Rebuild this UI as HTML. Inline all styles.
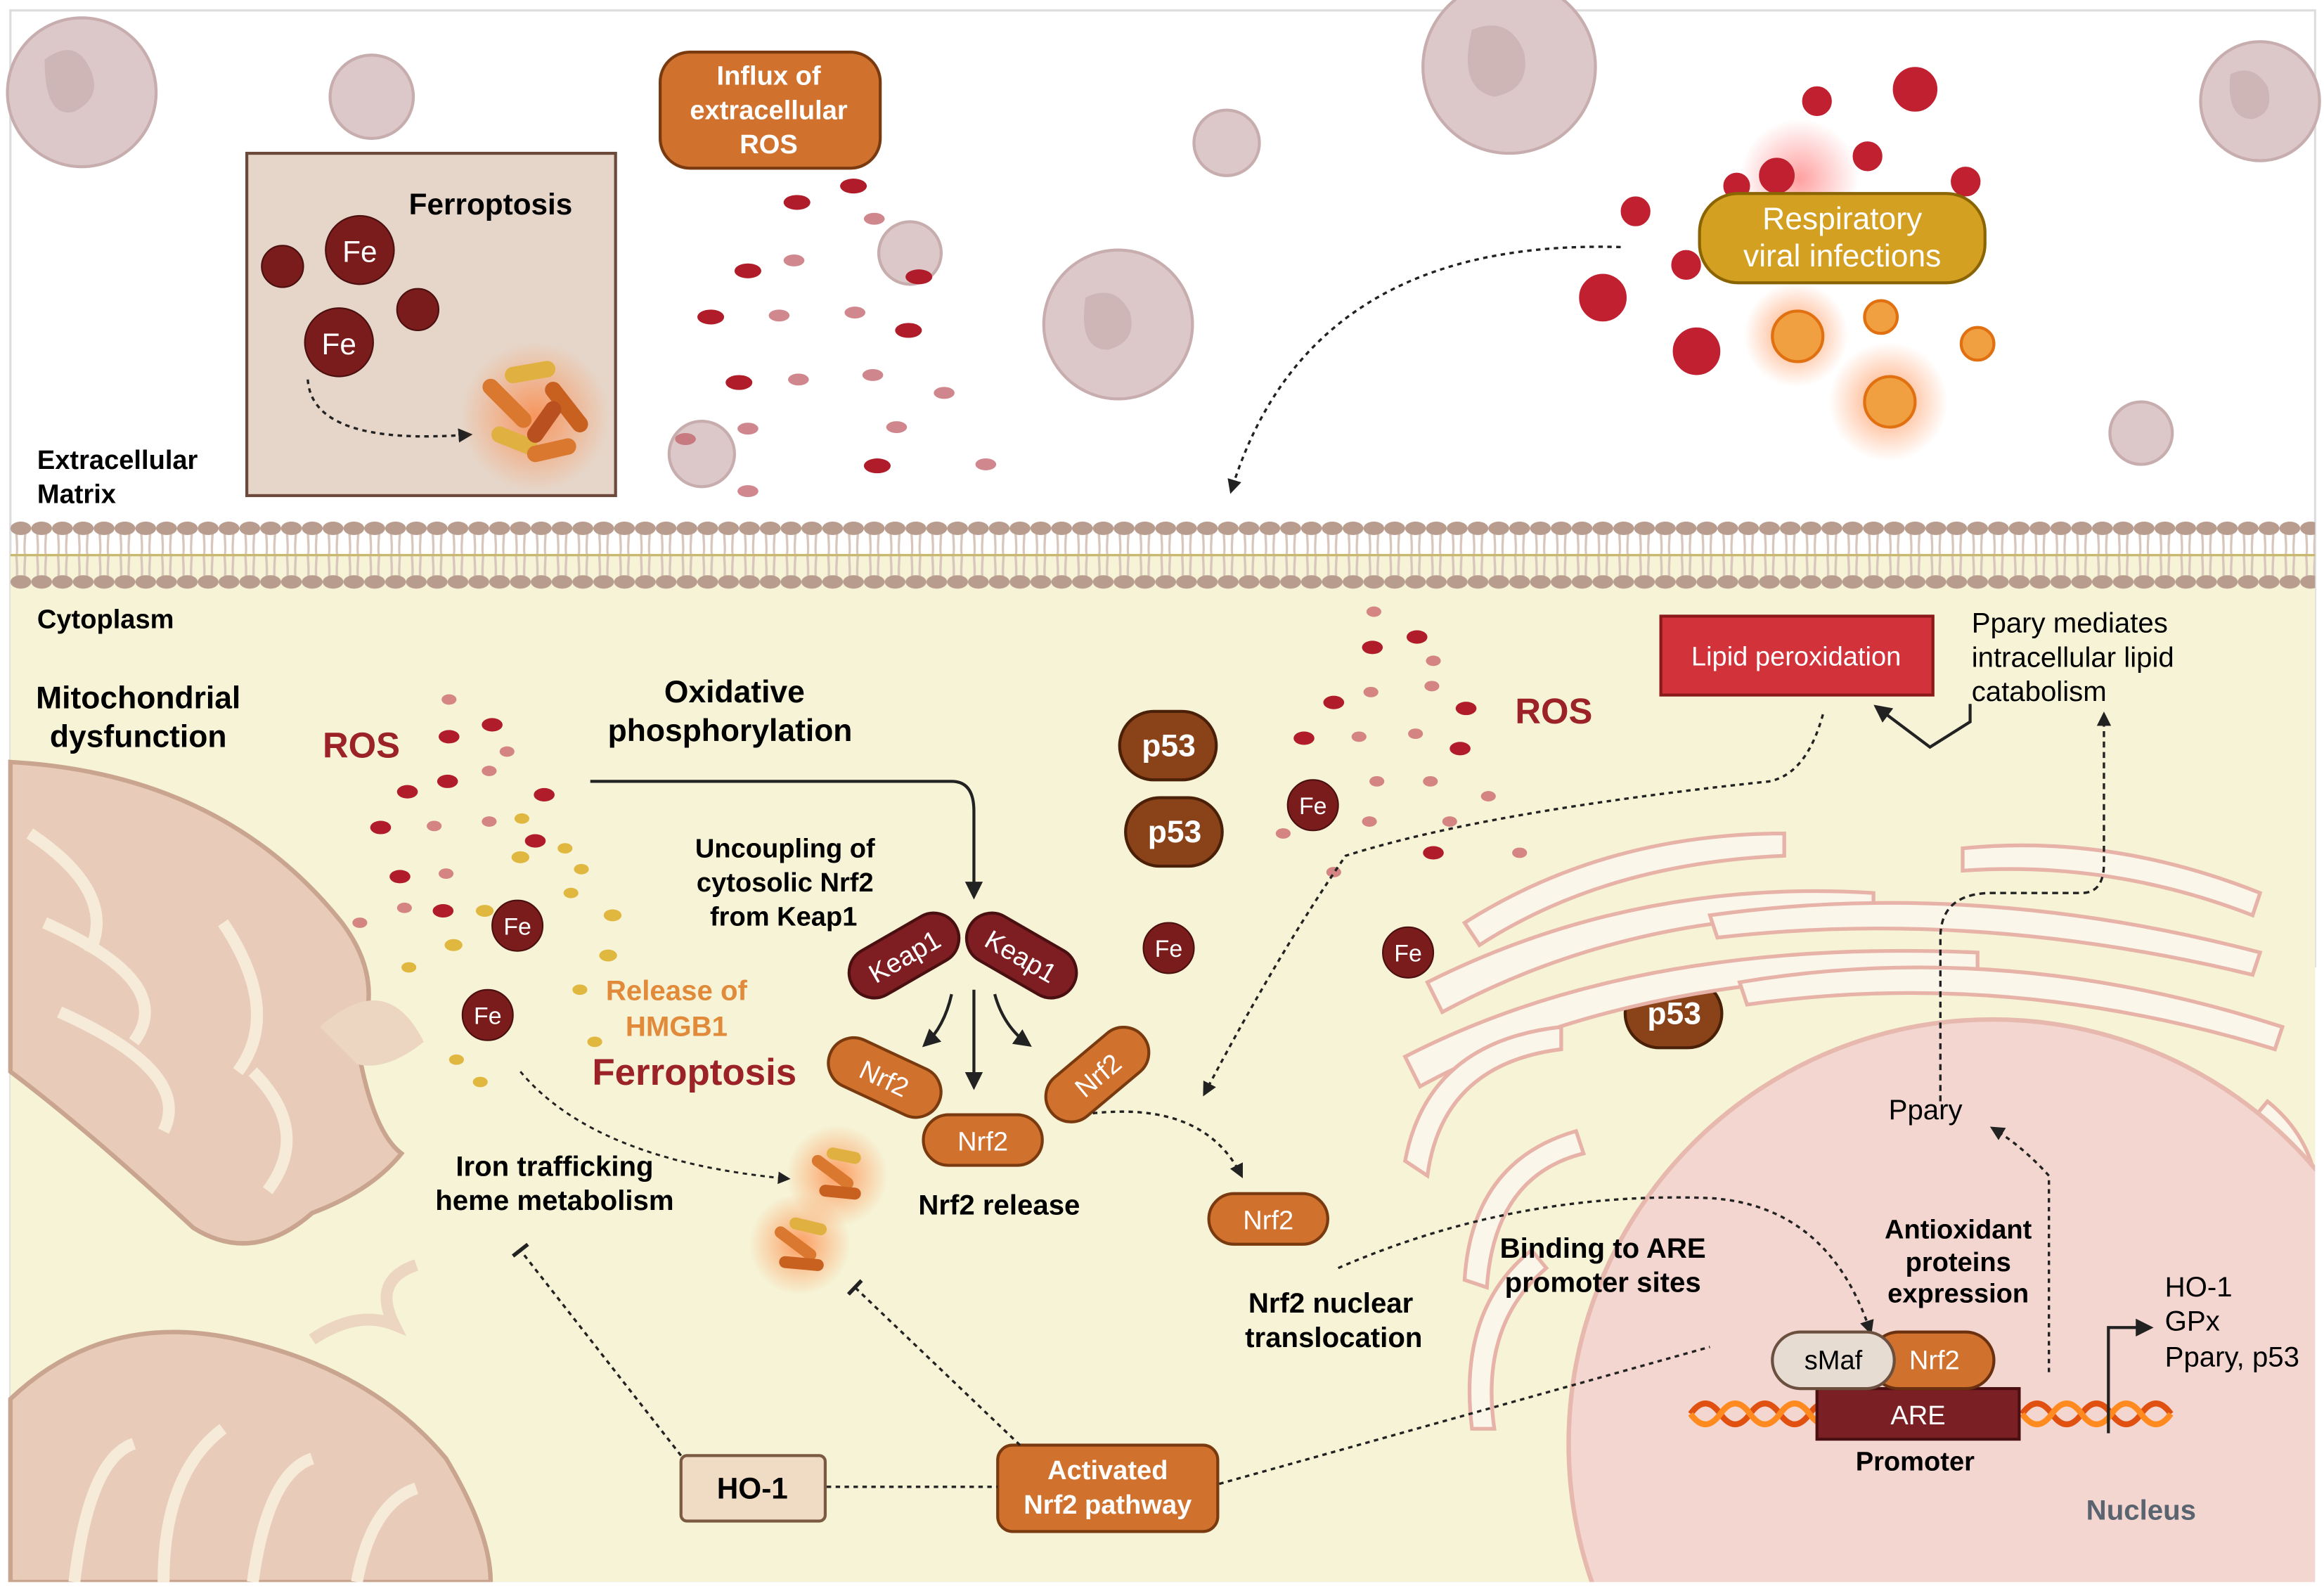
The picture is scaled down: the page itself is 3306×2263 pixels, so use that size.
<!DOCTYPE html>
<html><head><meta charset="utf-8"><style>
html,body{margin:0;padding:0;background:#fff;width:3306px;height:2263px;overflow:hidden}
svg{display:block}
text{font-family:"Liberation Sans Narrow","Liberation Sans",sans-serif}
.b{font-weight:bold}
</style></head><body>
<svg width="3306" height="2263" viewBox="0 0 1563 1069" preserveAspectRatio="none" xmlns="http://www.w3.org/2000/svg">
<defs>
<marker id="ah" viewBox="0 0 10 10" refX="8" refY="5" markerWidth="6" markerHeight="6" orient="auto"><path d="M0,0L10,5L0,10z" fill="#222"/></marker>
<marker id="tb" viewBox="0 0 10 10" refX="5" refY="5" markerWidth="8" markerHeight="8" orient="auto"><path d="M5,0V10" stroke="#222" stroke-width="2"/></marker>
<radialGradient id="glow"><stop offset="0" stop-color="#ff7a30" stop-opacity=".7"/><stop offset="1" stop-color="#ff7a30" stop-opacity="0"/></radialGradient>
<radialGradient id="rglow"><stop offset="0" stop-color="#ff4040" stop-opacity=".5"/><stop offset="1" stop-color="#ff4040" stop-opacity="0"/></radialGradient>
<pattern id="mem" width="14" height="46" patternUnits="userSpaceOnUse" x="7" y="350">
<path d="M4,8 Q5,22 4,23 M10,8 Q9,22 10,23 M4,23 Q5,36 4,40 M10,23 Q9,36 10,40" stroke="#d8c6bc" stroke-width="1.6" fill="none"/>
<ellipse cx="7" cy="5" rx="7" ry="4.5" fill="#b89c8e"/>
<ellipse cx="7" cy="41" rx="7" ry="4.5" fill="#b89c8e"/>
</pattern>
</defs>
<rect x="0" y="0" width="1563" height="1069" fill="#fff"/>
<rect x="7" y="7" width="1550" height="1056" fill="#fff" stroke="#ddd" stroke-width="1.5"/>
<rect x="7" y="372" width="1550" height="691" fill="#f6f3d6"/>
<rect x="7" y="350" width="1550" height="46" fill="url(#mem)"/>
<line x1="7" y1="373" x2="1557" y2="373" stroke="#c8b870" stroke-width="1.5"/>
<g fill="#dcc8c8" stroke="#c7adad" stroke-width="2">
<circle cx="55" cy="62" r="50"/><circle cx="250" cy="65" r="28"/><circle cx="1015" cy="45" r="58"/>
<circle cx="825" cy="96" r="22"/><circle cx="752" cy="218" r="50"/><circle cx="612" cy="170" r="21"/>
<circle cx="472" cy="305" r="22"/><circle cx="1520" cy="68" r="40"/><circle cx="1440" cy="291" r="21"/>
</g>
<g fill="#c8aeae" opacity=".7">
<path d="M30,40 q20,-15 30,5 q10,20 -10,30 q-20,5 -20,-35z"/><path d="M990,20 q25,-10 35,15 q5,25 -20,30 q-25,-5 -15,-45z"/>
<path d="M730,200 q20,-10 30,10 q5,20 -15,25 q-20,0 -15,-35z"/><path d="M1500,50 q15,-8 25,8 q5,18 -10,22 q-18,0 -15,-30z"/>
</g>
<rect x="166" y="103" width="248" height="230" fill="#e6d6c9" stroke="#6b4a3c" stroke-width="2"/>
<text x="330" y="144" font-size="20" class="b" text-anchor="middle">Ferroptosis</text>
<g fill="#7a1c1c" stroke="#4a0f0f" stroke-width="1">
<circle cx="190" cy="179" r="14"/><circle cx="281" cy="208" r="14"/>
<circle cx="242" cy="168" r="23"/><circle cx="228" cy="230" r="23"/>
</g>
<text x="242" y="176" font-size="20" fill="#fff" text-anchor="middle">Fe</text>
<text x="228" y="238" font-size="20" fill="#fff" text-anchor="middle">Fe</text>
<path d="M207,255 Q210,300 316,292" stroke="#222" stroke-width="1.6" fill="none" stroke-dasharray="3,3" marker-end="url(#ah)"/>
<circle cx="360" cy="280" r="50" fill="url(#glow)"/>
<g stroke-linecap="round" stroke-width="11">
<path d="M330,260 L352,282" stroke="#d9782e"/><path d="M345,252 L368,248" stroke="#e0b040"/><path d="M372,262 L390,285" stroke="#c86020"/>
<path d="M336,292 L356,300" stroke="#e0b040"/><path d="M360,305 L382,300" stroke="#d9782e"/><path d="M372,275 L360,292" stroke="#b85020"/>
</g>
<text x="25" y="315" font-size="18" class="b">Extracellular</text>
<text x="25" y="338" font-size="18" class="b">Matrix</text>
<rect x="444" y="35" width="148" height="78" rx="20" fill="#d0722e" stroke="#7a3a10" stroke-width="2"/>
<g font-size="18" class="b" fill="#fff" text-anchor="middle"><text x="517" y="57">Influx of</text><text x="517" y="80">extracellular</text><text x="517" y="103">ROS</text></g>
<g fill="#b01c2a">
<ellipse cx="536" cy="136" rx="9" ry="5"/><ellipse cx="574" cy="125" rx="9" ry="5"/><ellipse cx="503" cy="182" rx="9" ry="5"/>
<ellipse cx="618" cy="186" rx="9" ry="5"/><ellipse cx="478" cy="213" rx="9" ry="5"/><ellipse cx="611" cy="222" rx="9" ry="5"/>
<ellipse cx="497" cy="257" rx="9" ry="5"/><ellipse cx="590" cy="313" rx="9" ry="5"/>
</g>
<g fill="#c06068" opacity=".75">
<ellipse cx="588" cy="147" rx="7" ry="4"/><ellipse cx="534" cy="175" rx="7" ry="4"/><ellipse cx="575" cy="210" rx="7" ry="4"/>
<ellipse cx="524" cy="212" rx="7" ry="4"/><ellipse cx="587" cy="252" rx="7" ry="4"/><ellipse cx="537" cy="255" rx="7" ry="4"/>
<ellipse cx="635" cy="264" rx="7" ry="4"/><ellipse cx="503" cy="288" rx="7" ry="4"/><ellipse cx="603" cy="287" rx="7" ry="4"/>
<ellipse cx="663" cy="312" rx="7" ry="4"/><ellipse cx="461" cy="295" rx="7" ry="4"/><ellipse cx="503" cy="330" rx="7" ry="4"/>
</g>
<g>
<circle cx="1210" cy="120" r="40" fill="url(#rglow)"/><circle cx="1270" cy="270" r="40" fill="url(#glow)"/><circle cx="1208" cy="225" r="35" fill="url(#glow)"/>
</g>
<g fill="#c02030" stroke="#c02030" stroke-width="2">
<circle cx="1222" cy="68" r="9"/><circle cx="1288" cy="60" r="14"/><circle cx="1256" cy="105" r="9"/><circle cx="1322" cy="122" r="9"/>
<circle cx="1100" cy="142" r="9"/><circle cx="1078" cy="200" r="15"/><circle cx="1134" cy="178" r="9"/><circle cx="1141" cy="236" r="15"/>
<circle cx="1195" cy="118" r="11"/><circle cx="1168" cy="125" r="8"/>
</g>
<g fill="#f0a040" stroke="#e07010" stroke-width="2">
<circle cx="1209" cy="226" r="17"/><circle cx="1265" cy="213" r="11"/><circle cx="1330" cy="231" r="11"/><circle cx="1271" cy="270" r="17"/>
</g>
<rect x="1143" y="130" width="192" height="60" rx="26" fill="#d4a022" stroke="#8a6400" stroke-width="2"/>
<g font-size="21" fill="#fff" text-anchor="middle"><text x="1239" y="154">Respiratory</text><text x="1239" y="179">viral infections</text></g>
<path d="M1090,166 Q880,160 828,330" stroke="#222" stroke-width="1.6" fill="none" stroke-dasharray="3,3" marker-end="url(#ah)"/>
<path d="M7,512 Q150,520 230,620 Q260,660 240,700 Q250,760 270,775 Q250,800 210,815 Q170,850 130,825 Q60,760 7,720 Z" fill="#e8cbb8" stroke="#c9a590" stroke-width="3"/>
<path d="M20,560 Q80,600 60,640 M30,620 Q120,660 90,700 M40,680 Q130,720 110,760 M150,620 Q190,680 160,720 M170,720 Q210,760 180,800" stroke="#f6ead8" stroke-width="8" fill="none"/>
<path d="M215,690 Q260,650 285,700 Q260,720 240,715z" fill="#ecd6c2"/>
<path d="M7,940 Q70,880 160,900 Q250,920 300,980 Q330,1030 330,1063 L7,1063z" fill="#e8cbb8" stroke="#c9a590" stroke-width="3"/>
<path d="M50,1063 Q60,980 90,970 M110,1063 Q110,990 150,960 M170,1063 Q180,990 210,980 M240,1063 Q250,1010 280,1000" stroke="#f6ead8" stroke-width="8" fill="none"/>
<path d="M210,900 Q240,880 265,890 Q250,860 280,850" stroke="#ecd6c2" stroke-width="8" fill="none"/>
<g fill="#b01c2a">
<ellipse cx="331" cy="487" rx="7" ry="4.5"/><ellipse cx="302" cy="495" rx="7" ry="4.5"/><ellipse cx="274" cy="532" rx="7" ry="4.5"/>
<ellipse cx="301" cy="525" rx="7" ry="4.5"/><ellipse cx="366" cy="534" rx="7" ry="4.5"/><ellipse cx="256" cy="556" rx="7" ry="4.5"/>
<ellipse cx="360" cy="565" rx="7" ry="4.5"/><ellipse cx="269" cy="589" rx="7" ry="4.5"/><ellipse cx="298" cy="612" rx="7" ry="4.5"/>
</g>
<g fill="#c86068" opacity=".75">
<ellipse cx="302" cy="470" rx="5" ry="3.5"/><ellipse cx="341" cy="505" rx="5" ry="3.5"/><ellipse cx="329" cy="518" rx="5" ry="3.5"/>
<ellipse cx="292" cy="555" rx="5" ry="3.5"/><ellipse cx="329" cy="552" rx="5" ry="3.5"/><ellipse cx="300" cy="587" rx="5" ry="3.5"/>
<ellipse cx="272" cy="610" rx="5" ry="3.5"/><ellipse cx="242" cy="620" rx="5" ry="3.5"/>
</g>
<g fill="#e0b840">
<ellipse cx="351" cy="550" rx="5" ry="3.5"/><ellipse cx="350" cy="576" rx="6" ry="4"/><ellipse cx="380" cy="570" rx="5" ry="3.5"/>
<ellipse cx="391" cy="584" rx="5" ry="3.5"/><ellipse cx="326" cy="612" rx="6" ry="4"/><ellipse cx="384" cy="600" rx="5" ry="3.5"/>
<ellipse cx="412" cy="615" rx="6" ry="4"/><ellipse cx="305" cy="635" rx="6" ry="4"/><ellipse cx="409" cy="642" rx="6" ry="4"/>
<ellipse cx="390" cy="665" rx="5" ry="3.5"/><ellipse cx="275" cy="650" rx="5" ry="3.5"/><ellipse cx="307" cy="712" rx="5" ry="3.5"/>
<ellipse cx="323" cy="727" rx="5" ry="3.5"/><ellipse cx="400" cy="700" rx="5" ry="3.5"/>
</g>
<g fill="#7a1c1c" stroke="#4a0f0f"><circle cx="348" cy="622" r="17"/><circle cx="328" cy="682" r="17"/></g>
<text x="348" y="628" font-size="16" fill="#fff" text-anchor="middle">Fe</text>
<text x="328" y="688" font-size="16" fill="#fff" text-anchor="middle">Fe</text>
<text x="25" y="422" font-size="18" class="b">Cytoplasm</text>
<text x="93" y="476" font-size="21" class="b" text-anchor="middle">Mitochondrial</text>
<text x="93" y="502" font-size="21" class="b" text-anchor="middle">dysfunction</text>
<text x="243" y="509" font-size="24" class="b" fill="#9b2226" text-anchor="middle">ROS</text>
<text x="455" y="672" font-size="19" class="b" fill="#e08a3a" text-anchor="middle">Release of</text>
<text x="455" y="696" font-size="19" class="b" fill="#e08a3a" text-anchor="middle">HMGB1</text>
<text x="467" y="729" font-size="25" class="b" fill="#9b2226" text-anchor="middle">Ferroptosis</text>
<text x="494" y="472" font-size="21" class="b" text-anchor="middle">Oxidative</text>
<text x="491" y="498" font-size="21" class="b" text-anchor="middle">phosphorylation</text>
<path d="M397,525 L640,525 Q655,525 655,545 L655,602" stroke="#222" stroke-width="2" fill="none" marker-end="url(#ah)"/>
<g font-size="18" class="b" text-anchor="middle"><text x="528" y="576">Uncoupling of</text><text x="528" y="599">cytosolic Nrf2</text><text x="527" y="622">from Keap1</text></g>
<g transform="translate(608,642) rotate(-30)"><rect x="-40" y="-17" width="80" height="34" rx="17" fill="#7e1e22" stroke="#4a0f10" stroke-width="2"/><text x="0" y="7" font-size="18" fill="#fff" text-anchor="middle">Keap1</text></g>
<g transform="translate(687,642) rotate(30)"><rect x="-40" y="-17" width="80" height="34" rx="17" fill="#7e1e22" stroke="#4a0f10" stroke-width="2"/><text x="0" y="7" font-size="18" fill="#fff" text-anchor="middle">Keap1</text></g>
<path d="M640,668 Q635,690 622,702" stroke="#222" stroke-width="2" fill="none" marker-end="url(#ah)"/>
<path d="M655,665 L655,730" stroke="#222" stroke-width="2" fill="none" marker-end="url(#ah)"/>
<path d="M669,668 Q675,690 692,702" stroke="#222" stroke-width="2" fill="none" marker-end="url(#ah)"/>
<g transform="translate(595,724) rotate(25)"><rect x="-40" y="-17" width="80" height="34" rx="17" fill="#d0722e" stroke="#7a3a10" stroke-width="2"/><text x="0" y="7" font-size="18" fill="#fff" text-anchor="middle">Nrf2</text></g>
<rect x="621" y="749" width="80" height="34" rx="17" fill="#d0722e" stroke="#7a3a10" stroke-width="2"/><text x="661" y="773" font-size="18" fill="#fff" text-anchor="middle">Nrf2</text>
<g transform="translate(738,722) rotate(-40)"><rect x="-40" y="-17" width="80" height="34" rx="17" fill="#d0722e" stroke="#7a3a10" stroke-width="2"/><text x="0" y="7" font-size="18" fill="#fff" text-anchor="middle">Nrf2</text></g>
<text x="672" y="816" font-size="19" class="b" text-anchor="middle">Nrf2 release</text>
<path d="M735,748 Q810,740 835,790" stroke="#222" stroke-width="1.6" fill="none" stroke-dasharray="3,3" marker-end="url(#ah)"/>
<rect x="813" y="802" width="80" height="34" rx="17" fill="#d0722e" stroke="#7a3a10" stroke-width="2"/><text x="853" y="826" font-size="18" fill="#fff" text-anchor="middle">Nrf2</text>
<text x="895" y="882" font-size="19" class="b" text-anchor="middle">Nrf2 nuclear</text>
<text x="897" y="905" font-size="19" class="b" text-anchor="middle">translocation</text>
<circle cx="563" cy="790" r="34" fill="url(#glow)"/><circle cx="538" cy="836" r="34" fill="url(#glow)"/>
<g stroke-width="8" stroke-linecap="round">
<path d="M550,780 L570,795" stroke="#d9782e"/><path d="M560,775 L575,778" stroke="#e0b040"/><path d="M555,800 L575,802" stroke="#c86020"/>
<path d="M525,828 L545,843" stroke="#d9782e"/><path d="M535,822 L552,826" stroke="#e0b040"/><path d="M528,848 L550,850" stroke="#c86020"/>
</g>
<path d="M350,720 Q400,780 530,792" stroke="#222" stroke-width="1.4" fill="none" stroke-dasharray="3,3" marker-end="url(#ah)"/>
<text x="373" y="790" font-size="19" class="b" text-anchor="middle">Iron trafficking</text>
<text x="373" y="813" font-size="19" class="b" text-anchor="middle">heme metabolism</text>
<g fill="#8a4218" stroke="#4a2008" stroke-width="2">
<rect x="753" y="478" width="65" height="46" rx="23"/><rect x="757" y="536" width="65" height="46" rx="23"/><rect x="1093" y="658" width="65" height="46" rx="23"/>
</g>
<g font-size="21" class="b" fill="#fff" text-anchor="middle"><text x="786" y="508">p53</text><text x="790" y="566">p53</text><text x="1126" y="688">p53</text></g>
<g fill="#b01c2a">
<ellipse cx="953" cy="428" rx="7" ry="4.5"/><ellipse cx="923" cy="435" rx="7" ry="4.5"/><ellipse cx="897" cy="472" rx="7" ry="4.5"/>
<ellipse cx="986" cy="476" rx="7" ry="4.5"/><ellipse cx="877" cy="496" rx="7" ry="4.5"/><ellipse cx="982" cy="503" rx="7" ry="4.5"/>
<ellipse cx="964" cy="573" rx="7" ry="4.5"/>
</g>
<g fill="#c86068" opacity=".75">
<ellipse cx="924" cy="411" rx="5" ry="3.5"/><ellipse cx="964" cy="444" rx="5" ry="3.5"/><ellipse cx="922" cy="465" rx="5" ry="3.5"/>
<ellipse cx="963" cy="461" rx="5" ry="3.5"/><ellipse cx="914" cy="495" rx="5" ry="3.5"/><ellipse cx="952" cy="493" rx="5" ry="3.5"/>
<ellipse cx="926" cy="525" rx="5" ry="3.5"/><ellipse cx="962" cy="525" rx="5" ry="3.5"/><ellipse cx="1001" cy="535" rx="5" ry="3.5"/>
<ellipse cx="863" cy="560" rx="5" ry="3.5"/><ellipse cx="921" cy="552" rx="5" ry="3.5"/><ellipse cx="975" cy="552" rx="5" ry="3.5"/>
<ellipse cx="1022" cy="573" rx="5" ry="3.5"/><ellipse cx="897" cy="586" rx="5" ry="3.5"/>
</g>
<text x="1045" y="486" font-size="24" class="b" fill="#9b2226" text-anchor="middle">ROS</text>
<g fill="#7a1c1c" stroke="#4a0f0f"><circle cx="883" cy="541" r="17"/><circle cx="786" cy="637" r="17"/><circle cx="947" cy="640" r="17"/></g>
<g font-size="16" fill="#fff" text-anchor="middle"><text x="883" y="547">Fe</text><text x="786" y="643">Fe</text><text x="947" y="646">Fe</text></g>
<g fill="#fbf6ea" stroke="#e7b2a8" stroke-width="2.5">
<path d="M985,620 Q1080,560 1200,560 L1200,575 Q1080,580 995,635z"/>
<path d="M960,660 Q1100,590 1260,600 L1260,615 Q1100,610 970,680z"/>
<path d="M945,710 Q1100,630 1330,640 L1330,655 Q1100,650 955,730z"/>
<path d="M1150,615 Q1330,590 1520,640 L1515,655 Q1330,610 1155,630z"/>
<path d="M1170,660 Q1350,630 1535,690 L1530,705 Q1350,650 1175,675z"/>
<path d="M945,780 Q960,700 1050,690 L1050,705 Q970,715 960,790z"/>
<path d="M985,860 Q990,780 1060,760 L1065,775 Q1005,790 1000,865z"/>
<path d="M990,960 Q980,880 1030,840 L1040,852 Q995,890 1005,960z"/>
<path d="M1320,570 Q1420,560 1520,600 L1515,615 Q1420,578 1320,585z"/>
<path d="M1525,740 Q1550,760 1557,790 L1557,820 Q1540,770 1515,752z"/>
</g>
<circle cx="1340" cy="970" r="285" fill="#f3d6cf" stroke="#e7b8ae" stroke-width="3"/>
<rect x="1557" y="650" width="6" height="419" fill="#fff"/>
<rect x="0" y="1063" width="1563" height="6" fill="#fff"/>
<text x="1295" y="752" font-size="19" text-anchor="middle">Ppary</text>
<path d="M1305,740 L1305,630 Q1305,600 1340,600 L1400,600 Q1415,600 1415,580 L1415,480" stroke="#222" stroke-width="1.6" fill="none" stroke-dasharray="4,3" marker-end="url(#ah)"/>
<path d="M1378,922 L1378,790 Q1360,770 1340,758" stroke="#222" stroke-width="1.6" fill="none" stroke-dasharray="3,3" marker-end="url(#ah)"/>
<g font-size="18" class="b" text-anchor="middle"><text x="1317" y="832">Antioxidant</text><text x="1317" y="854">proteins</text><text x="1317" y="875">expression</text></g>
<text x="1078" y="845" font-size="19" class="b" text-anchor="middle">Binding to ARE</text>
<text x="1078" y="868" font-size="19" class="b" text-anchor="middle">promoter sites</text>
<path d="M900,852 Q1020,800 1150,805 Q1230,810 1258,895" stroke="#222" stroke-width="1.6" fill="none" stroke-dasharray="3,3" marker-end="url(#ah)"/>
<g fill="none" stroke-width="4">
<path d="M1137,950 q10,-14 20,0 t20,0 t20,0 t20,0 t20,0 M1360,950 q10,-14 20,0 t20,0 t20,0 t20,0 t20,0" stroke="#e05010"/>
<path d="M1137,950 q10,14 20,0 t20,0 t20,0 t20,0 t20,0 M1360,950 q10,14 20,0 t20,0 t20,0 t20,0 t20,0" stroke="#ff8a20"/>
</g>
<rect x="1222" y="933" width="136" height="34" fill="#7a2024" stroke="#4a0f10" stroke-width="2"/>
<text x="1290" y="957" font-size="18" fill="#fff" text-anchor="middle">ARE</text>
<rect x="1258" y="895" width="83" height="38" rx="19" fill="#d0722e" stroke="#6b3010" stroke-width="2"/>
<rect x="1192" y="895" width="82" height="38" rx="19" fill="#e6dcd2" stroke="#6b5040" stroke-width="2"/>
<text x="1233" y="920" font-size="18" text-anchor="middle">sMaf</text>
<text x="1301" y="920" font-size="18" fill="#fff" text-anchor="middle">Nrf2</text>
<text x="1288" y="988" font-size="18" class="b" text-anchor="middle">Promoter</text>
<path d="M1418,963 L1418,892 L1446,892" stroke="#222" stroke-width="2" fill="none" marker-end="url(#ah)"/>
<g font-size="19"><text x="1456" y="871">HO-1</text><text x="1456" y="894">GPx</text><text x="1456" y="918">Ppary, p53</text></g>
<text x="1440" y="1021" font-size="19" class="b" fill="#5a6470" text-anchor="middle">Nucleus</text>
<rect x="1117" y="414" width="183" height="53" fill="#d2323a" stroke="#8a1a1a" stroke-width="2"/>
<text x="1208" y="447" font-size="18" fill="#fff" text-anchor="middle">Lipid peroxidation</text>
<g font-size="19"><text x="1326" y="425">Ppary mediates</text><text x="1326" y="448">intracellular lipid</text><text x="1326" y="471">catabolism</text></g>
<path d="M1325,473 L1325,485 L1298,502 L1262,475" stroke="#222" stroke-width="2" fill="none" marker-end="url(#ah)"/>
<path d="M1226,480 Q1215,520 1190,525 Q1000,545 905,575 Q860,640 810,735" stroke="#222" stroke-width="1.6" fill="none" stroke-dasharray="3,3" marker-end="url(#ah)"/>
<rect x="458" y="978" width="97" height="44" rx="4" fill="#f0dcc4" stroke="#7a5a40" stroke-width="2"/>
<text x="506" y="1007" font-size="20" class="b" text-anchor="middle">HO-1</text>
<rect x="671" y="971" width="148" height="58" rx="10" fill="#d0722e" stroke="#7a3a10" stroke-width="2"/>
<text x="745" y="994" font-size="18" class="b" fill="#fff" text-anchor="middle">Activated</text>
<text x="745" y="1017" font-size="18" class="b" fill="#fff" text-anchor="middle">Nrf2 pathway</text>
<g stroke="#222" stroke-width="1.6" fill="none" stroke-dasharray="3,3">
<path d="M556,999 L671,999"/>
<path d="M458,978 L350,840" marker-end="url(#tb)"/>
<path d="M686,971 L575,865" marker-end="url(#tb)"/>
<path d="M820,997 L1150,905"/>
</g>
</svg>
</body></html>
